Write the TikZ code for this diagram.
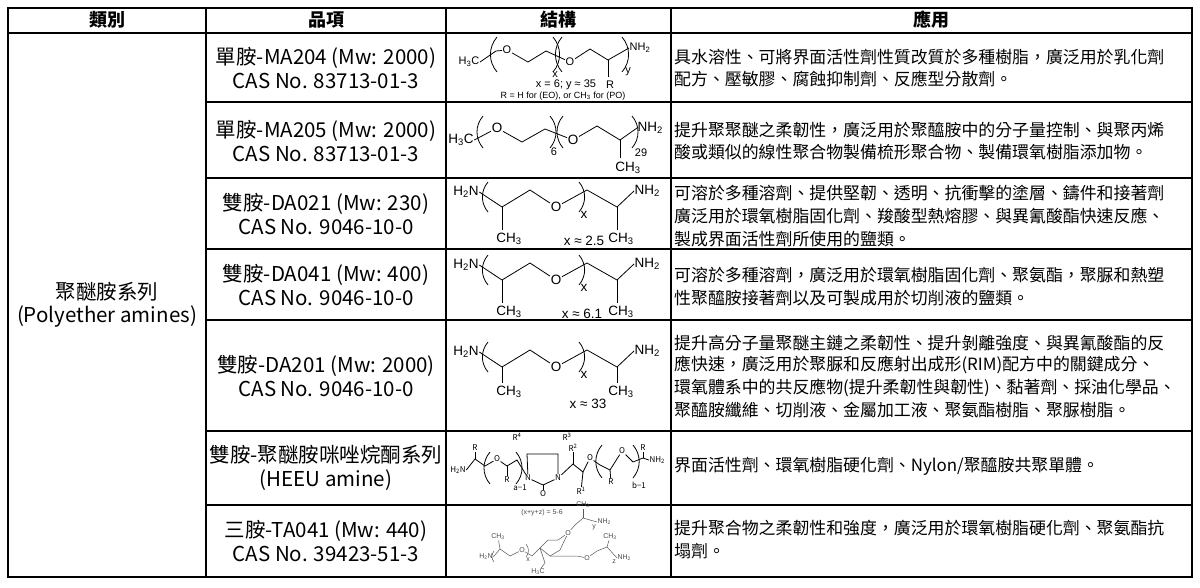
\documentclass[tikz,border=0pt]{standalone}
\usepackage{fontspec}
\setmainfont{Noto Sans CJK TC}
\newfontfamily\chemf{Liberation Sans}
\begin{document}
\begin{tikzpicture}[x=1pt,y=-1pt,
  grid/.style={line width=1.3pt},
  sline/.style={line width=0.8pt},
  hd/.style={font=\fontsize{18}{20}\selectfont\bfseries},
  itm/.style={font=\fontsize{20.5}{23.5}\selectfont, align=center},
  app/.style={anchor=west, inner sep=0pt, font=\fontsize{16.9}{18}\selectfont},
  ch/.style={inner sep=0.5pt, font=\chemf\fontsize{13.5}{14}\selectfont},
  chs/.style={inner sep=0.5pt, font=\chemf\fontsize{11}{12}\selectfont},
  cht/.style={inner sep=0.3pt, text=black!70, font=\chemf\fontsize{7}{7}\selectfont}]
\newcommand\lpar[3]{\draw[sline] (#1,#2) to[bend right=40] (#1,#3);}
\newcommand\rpar[3]{\draw[sline] (#1,#2) to[bend left=40] (#1,#3);}
\useasboundingbox (0,0) rectangle (1200,587);
\fill[white] (0,0) rectangle (1200,587);
% grid
\draw[grid] (8,8) rectangle (1192,577);
\foreach \x in {206,446,671} \draw[grid] (\x,8) -- (\x,577);
\draw[grid] (8,33) -- (1192,33);
\foreach \y in {102,178,249,320,431,505} \draw[grid] (206,\y) -- (1192,\y);
% header
\node[hd] (h1) at (107,20) {類別};
\node[hd] (h2) at (326,20) {品項};
\node[hd] (h3) at (558,20) {結構};
\node[hd] (h4) at (931,20) {應用};
\node[itm] (c1) at (107,305) {聚醚胺系列\\(Polyether amines)};
% items
\node[itm] (i1) at (326,68) {單胺-MA204 (Mw: 2000)\\CAS No. 83713-01-3};
\node[itm] (i2) at (326,141) {單胺-MA205 (Mw: 2000)\\CAS No. 83713-01-3};
\node[itm] (i3) at (326,214) {雙胺-DA021 (Mw: 230)\\CAS No. 9046-10-0};
\node[itm] (i4) at (326,285) {雙胺-DA041 (Mw: 400)\\CAS No. 9046-10-0};
\node[itm] (i5) at (326,376) {雙胺-DA201 (Mw: 2000)\\CAS No. 9046-10-0};
\node[itm] (i6) at (326,468) {雙胺-聚醚胺咪唑烷酮系列\\(HEEU amine)};
\node[itm] (i7) at (326,541) {三胺-TA041 (Mw: 440)\\CAS No. 39423-51-3};
% applications
\node[app] (a11) at (674,57) {具水溶性、可將界面活性劑性質改質於多種樹脂，廣泛用於乳化劑};
\node[app] (a12) at (674,79) {配方、壓敏膠、腐蝕抑制劑、反應型分散劑。};
\node[app] (a21) at (674,130) {提升聚聚醚之柔韌性，廣泛用於聚醯胺中的分子量控制、與聚丙烯};
\node[app] (a22) at (674,152) {酸或類似的線性聚合物製備梳形聚合物、製備環氧樹脂添加物。};
\node[app] (a31) at (674,193) {可溶於多種溶劑、提供堅韌、透明、抗衝擊的塗層、鑄件和接著劑};
\node[app] (a32) at (674,216) {廣泛用於環氧樹脂固化劑、羧酸型熱熔膠、與異氰酸酯快速反應、};
\node[app] (a33) at (674,239) {製成界面活性劑所使用的鹽類。};
\node[app] (a41) at (674,275) {可溶於多種溶劑，廣泛用於環氧樹脂固化劑、聚氨酯，聚脲和熱塑};
\node[app] (a42) at (674,298) {性聚醯胺接著劑以及可製成用於切削液的鹽類。};
\node[app] (a51) at (674,343) {提升高分子量聚醚主鏈之柔韌性、提升剝離強度、與異氰酸酯的反};
\node[app] (a52) at (674,365) {應快速，廣泛用於聚脲和反應射出成形(RIM)配方中的關鍵成分、};
\node[app] (a53) at (674,388) {環氧體系中的共反應物(提升柔韌性與韌性)、黏著劑、採油化學品、};
\node[app] (a54) at (674,410) {聚醯胺纖維、切削液、金屬加工液、聚氨酯樹脂、聚脲樹脂。};
\node[app] (a61) at (674,466) {界面活性劑、環氧樹脂硬化劑、Nylon/聚醯胺共聚單體。};
\node[app] (a71) at (674,528) {提升聚合物之柔韌性和強度，廣泛用於環氧樹脂硬化劑、聚氨酯抗};
\node[app] (a72) at (674,551) {塌劑。};
% ---- structure 1
\node[chs] (s1a) at (469,62) {H\textsubscript{3}C};
\node[chs] (s1o1) at (507,50) {O};
\node[chs] (s1o2) at (570,62) {O};
\node[chs,anchor=west] (s1n) at (629,48) {NH\textsubscript{2}};
\draw[sline] (s1a.east) -- (496,51) -- (s1o1);
\draw[sline] (s1o1) -- (528,62) -- (546,51) -- (s1o2);
\draw[sline] (s1o2) -- (590,49) -- (608,60) -- (s1n.west);
\draw[sline] (608,60) -- (608,77);
\node[chs] (s1r) at (610,85) {R};
\lpar{497}{37}{72}\rpar{553}{37}{72}\lpar{562}{37}{72}\rpar{622}{37}{72}
\node[chs] (s1x) at (555,75) {x};
\node[chs] (s1y) at (628,72) {y};
\node[chs] (s1t) at (566,85) {x = 6; y ≈ 35};
\node[inner sep=0.5pt, font=\chemf\fontsize{9}{9}\selectfont] (s1u) at (563,96) {R = H for (EO), or CH\textsubscript{3} for (PO)};
% ---- structure 2
\node[ch] (s2a) at (461,140) {H\textsubscript{3}C};
\node[ch] (s2o1) at (497,128) {O};
\node[ch] (s2o2) at (573,140) {O};
\node[ch,anchor=west] (s2n) at (637,128) {NH\textsubscript{2}};
\draw[sline] (s2a.east) -- (s2o1);
\draw[sline] (s2o1) -- (522,142) -- (545,129) -- (s2o2);
\draw[sline] (s2o2) -- (597,126) -- (620,140) -- (s2n.west);
\draw[sline] (620,140) -- (620,158);
\node[ch] (s2m) at (628,168) {CH\textsubscript{3}};
\lpar{483}{116}{148}\rpar{550}{116}{148}\lpar{563}{116}{148}\rpar{632}{116}{148}
\node[chs] (s2x) at (554,152) {6};
\node[chs] (s2y) at (641,153) {29};
% ---- diamines
\newcommand\diam[4]{%
\begin{scope}[shift={(0,#1)}]
\node[ch] (#4h) at (466,192) {H\textsubscript{2}N};
\node[ch] (#4o) at (556,207) {O};
\node[ch,anchor=west] (#4n) at (634,191) {NH\textsubscript{2}};
\draw[sline] (#4h.east) -- (502,207) -- (530,190) -- (#4o);
\draw[sline] (#4o) -- (587,190) -- (617,207) -- (#4n.west);
\draw[sline] (502,207) -- (502,#3);
\draw[sline] (617,207) -- (617,#3);
\node[ch] (#4m1) at (509,#3+9) {CH\textsubscript{3}};
\node[ch] (#4m2) at (621,#3+9) {CH\textsubscript{3}};
\lpar{488}{182}{212}\rpar{579}{182}{212}
\node[ch] (#4x) at (584,215) {x};
\end{scope}}
\diam{0}{0,0}{230}{d1}
\node[ch] (d1l) at (584,241) {x ≈ 2.5};
\diam{73}{0,0}{230}{d2}
\node[ch] (d2l) at (582,314) {x ≈ 6.1};
\diam{160}{0,0}{223}{d3}
\node[ch] (d3l) at (588,404) {x ≈ 33};
% ---- structure 6 (HEEU)
\begin{scope}[every node/.style={inner sep=0.4pt, font=\fontsize{8}{8}\selectfont}]
\node (e1) at (458,470) {H\textsubscript{2}N};
\node (eo1) at (497,459) {O};
\node (en1) at (528,478) {N};
\node (en2) at (558,478) {N};
\node (eo3) at (543,494) {O};
\node (eo2) at (590,458) {O};
\node (eo4) at (622,451) {O};
\node[anchor=west] (en) at (649,460) {NH\textsubscript{2}};
\node (er0) at (475,448) {R};
\node (er01) at (507,480) {R};
\node (er4) at (517,437) {R\textsuperscript{4}};
\node (er3) at (567,437) {R\textsuperscript{3}};
\node (er2) at (573,448) {R\textsuperscript{2}};
\node (er1) at (581,491) {R\textsuperscript{1}};
\node (er5) at (611,482) {R};
\node (er6) at (643,448) {R};
\node (ea) at (520,488) {\itshape a−1};
\node (eb) at (639,485) {\itshape b−1};
\end{scope}
\draw[sline] (e1.east) -- (475,459) -- (485,466) -- (eo1);
\draw[sline] (475,459) -- (er0);
\draw[sline] (eo1) -- (507,466) -- (517,460) -- (en1);
\draw[sline] (507,466) -- (er01);
\draw[sline] (en1) -- (527,454) -- (558,454) -- (en2);
\draw[sline] (en1) -- (543,485) -- (en2);
\draw[sline] (543,485) -- (eo3);
\draw[sline] (en2) -- (573,464) -- (583,472) -- (eo2);
\draw[sline] (573,464) -- (er2);
\draw[sline] (583,472) -- (er1);
\draw[sline] (eo2) -- (600,465) -- (610,470) -- (eo4);
\draw[sline] (610,470) -- (er5);
\draw[sline] (eo4) -- (633,462) -- (643,458) -- (en.west);
\draw[sline] (643,458) -- (er6);
\lpar{490}{452}{484}\rpar{516}{452}{484}\lpar{602}{445}{478}\rpar{633}{445}{478}
% ---- structure 7 (TA041)
\begin{scope}[black!65]
\node[cht] (t0) at (542,513) {(x+y+z) = 5-6};
\node[cht] (t1) at (486,557) {H\textsubscript{2}N};
\node[cht] (to1) at (522,550) {O};
\node[cht] (to2) at (568,533) {O};
\node[cht] (to3) at (587,558) {O};
\node[cht,anchor=west] (tn2) at (597,522) {NH\textsubscript{2}};
\node[cht,anchor=west] (tn3) at (617,558) {NH\textsubscript{2}};
\node[cht] (tm1) at (498,537) {CH\textsubscript{3}};
\node[cht] (tm2) at (583,505) {CH\textsubscript{3}};
\node[cht] (tm3) at (610,537) {CH\textsubscript{3}};
\node[cht] (tm4) at (538,572) {H\textsubscript{3}C};
\node[cht] (tx) at (528,560) {x};
\node[cht] (ty) at (594,527) {y};
\node[cht] (tz) at (614,562) {z};
\draw[line width=0.5pt] (t1.east) -- (500,549) -- (510,556) -- (to1);
\draw[line width=0.5pt] (500,549) -- (tm1);
\draw[line width=0.5pt] (to1) -- (532,556) -- (540,548) -- (550,556) -- (560,550) -- (to2);
\draw[line width=0.5pt] (540,548) -- (548,540) -- (558,540) -- (to2);
\draw[line width=0.5pt] (to2) -- (575,525) -- (583,518) -- (tn2.west);
\draw[line width=0.5pt] (583,518) -- (tm2);
\draw[line width=0.5pt] (550,556) -- (565,556) -- (577,556) -- (to3);
\draw[line width=0.5pt] (to3) -- (597,551) -- (607,547) -- (tn3.west);
\draw[line width=0.5pt] (607,547) -- (tm3);
\draw[line width=0.5pt] (540,548) -- (545,563) -- (tm4);
\draw[line width=0.5pt] (494,551) to[bend right=40] (494,562);
\draw[line width=0.5pt] (526,544) to[bend left=40] (526,557);
\end{scope}
\end{tikzpicture}
\end{document}
